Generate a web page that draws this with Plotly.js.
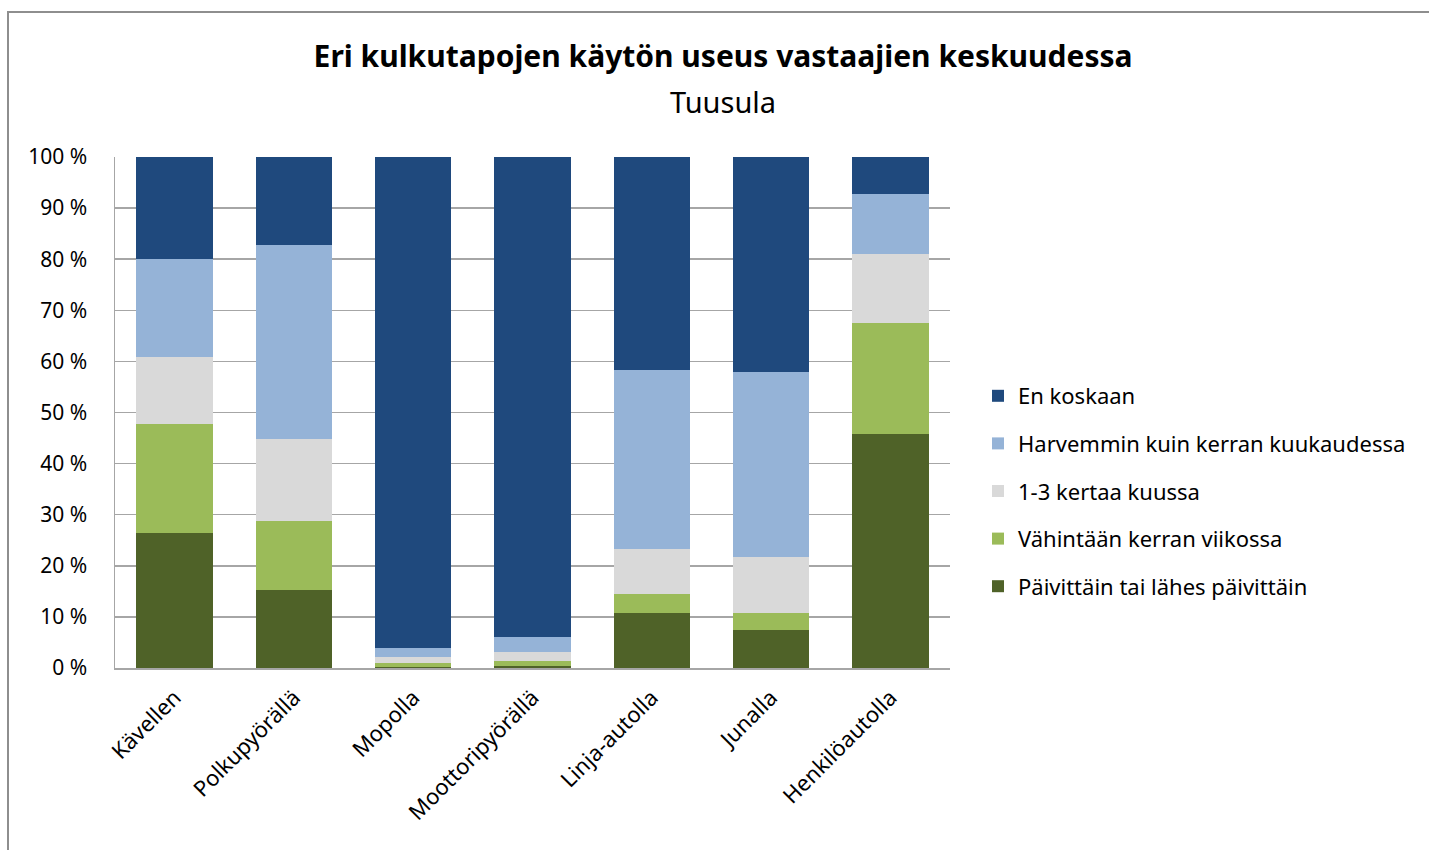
<!DOCTYPE html>
<html><head><meta charset="utf-8">
<script src="https://cdn.plot.ly/plotly-3.0.1.min.js"></script>
<style>
html,body{margin:0;padding:0;background:#fff;overflow:hidden}
#chart{position:absolute;left:0;top:0;width:1429px;height:850px}
#frame{position:absolute;left:7px;top:11px;width:1500px;height:900px;border:2px solid #8e8e8e;pointer-events:none}
</style></head>
<body>
<div id="chart"></div>
<div id="frame"></div>
<script>
const categories = ["Kävellen","Polkupyörällä","Mopolla","Moottoripyörällä","Linja-autolla","Junalla","Henkilöautolla"];
const paivittain  = [26.4, 15.2, 0.2, 0.3, 10.7, 7.5, 45.8];
const viikossa    = [21.3, 13.6, 0.8, 1.0, 3.8, 3.2, 21.7];
const kuussa      = [13.1, 16.0, 1.1, 1.9, 8.8, 11.1, 13.5];
const harvemmin   = [19.3, 37.9, 1.9, 2.8, 35.1, 36.2, 11.8];
const enKoskaan   = [19.9, 17.3, 96.0, 94.0, 41.6, 42.0, 7.2];
const seriesNames = ["Päivittäin tai lähes päivittäin","Vähintään kerran viikossa","1-3 kertaa kuussa","Harvemmin kuin kerran kuukaudessa","En koskaan"];
const seriesData = [paivittain, viikossa, kuussa, harvemmin, enKoskaan];
const colors = ["#4F6228","#9BBB59","#D9D9D9","#95B3D7","#1F497D"];
const yTicks = [0,10,20,30,40,50,60,70,80,90,100];

const FONT = "Noto Sans, Open Sans, sans-serif";
const traces = seriesData.map((d,i)=>({
  type:"bar", x:categories, y:d, name:seriesNames[i],
  legendgroup:"g"+i, legendrank: seriesData.length - i,
  marker:{color:colors[i], line:{width:0}},
  hoverinfo:"x+y+name"
}));

const layout = {
  width:1429, height:850,
  margin:{l:115, r:479, t:157, b:182},
  paper_bgcolor:"#fff", plot_bgcolor:"#fff",
  barmode:"stack", bargap:0.36,
  font:{family:FONT, size:20, color:"#000"},
  title:{text:"<b>Eri kulkutapojen käytön useus vastaajien keskuudessa</b>",
    font:{family:FONT, size:30, color:"#000"},
    xref:"container", x:0.506, xanchor:"center",
    yref:"container", y:1-56/850, yanchor:"middle"},
  annotations:[{text:"Tuusula", xref:"paper", yref:"paper",
    x:(723-115)/835, y:(668-101)/511, xanchor:"center", yanchor:"middle",
    showarrow:false, font:{family:FONT, size:29, color:"#000"}}],
  xaxis:{type:"category", tickangle:-45, tickfont:{family:FONT, size:22, color:"#000"},
    showline:true, linecolor:"#a6a6a6", linewidth:2, ticks:"", showgrid:false,
    ticklabelstandoff:6},
  yaxis:{range:[0,100], tickvals:yTicks, ticktext:yTicks.map(v=>v+" %"),
    tickfont:{family:FONT, size:21, color:"#000"},
    showgrid:true, gridcolor:"#a6a6a6", gridwidth:1.5,
    showline:true, linecolor:"#a6a6a6", linewidth:1.5, ticks:"",
    ticklabelstandoff:22, zeroline:false},
  legend:{x:(978-115)/835, xanchor:"left", y:(668-375)/511, yanchor:"top",
    traceorder:"grouped", tracegroupgap:16,
    font:{family:FONT, size:22, color:"#000"}, itemwidth:30, bgcolor:"rgba(0,0,0,0)"},
  showlegend:true
};
Plotly.newPlot("chart", traces, layout, {displayModeBar:false, staticPlot:true});
</script>
</body></html>
